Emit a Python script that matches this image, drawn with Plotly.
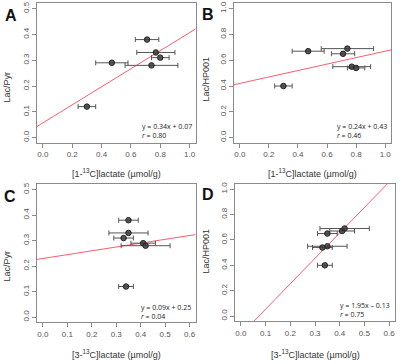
import plotly.graph_objects as go

# ---------------- data ----------------
lac1_x = [0.71, 0.77, 0.80, 0.47, 0.74, 0.30]          # [1-13C]lactate
lac1_err = [0.08, 0.13, 0.06, 0.11, 0.18, 0.06]
lac3_x = [0.35, 0.35, 0.33, 0.41, 0.42, 0.34]          # [3-13C]lactate
lac3_err = [0.04, 0.08, 0.04, 0.05, 0.10, 0.03]
lac_pyr = [0.38, 0.33, 0.31, 0.29, 0.28, 0.12]
lac_hp001 = [0.65, 0.55, 0.54, 0.67, 0.69, 0.40]

# regression lines as drawn (slope, intercept)
fit_A = (0.35, 0.057)
fit_B = (0.25, 0.42)
fit_C = (0.15, 0.23)
fit_D = (2.0, -0.145)

eq_text = {
    "A": ["y = 0.34x + 0.07", "r = 0.80"],
    "B": ["y = 0.24x + 0.43", "r = 0.46"],
    "C": ["y = 0.09x + 0.25", "r = 0.04"],
    "D": ["y = 1.95x \u2013 0.13", "r = 0.75"],
}

W, H = 400, 364

def fx(px):
    return px / W

def fy(py):
    return 1 - py / H

panels = {
    "A": (lac1_x, lac1_err, lac_pyr, fit_A, [-0.04, 1.04], [-0.02, 0.52], 0.2, 0.1, (37, 195.5, 1.5, 141.5)),
    "B": (lac1_x, lac1_err, lac_hp001, fit_B, [-0.04, 1.04], [-0.04, 1.04], 0.2, 0.2, (234, 391, 1.5, 141.5)),
    "C": (lac3_x, lac3_err, lac_pyr, fit_C, [-0.024, 0.624], [-0.02, 0.52], 0.1, 0.1, (37, 195.5, 183.5, 322)),
    "D": (lac3_x, lac3_err, lac_hp001, fit_D, [-0.024, 0.624], [-0.04, 1.04], 0.1, 0.2, (235, 395, 183, 321)),
}

xtitles = {
    "A": "[1-<sup>13</sup>C]lactate (\u00b5mol/g)",
    "B": "[1-<sup>13</sup>C]lactate (\u00b5mol/g)",
    "C": "[3-<sup>13</sup>C]lactate (\u00b5mol/g)",
    "D": "[3-<sup>13</sup>C]lactate (\u00b5mol/g)",
}
ytitles = {"A": "Lac/Pyr", "B": "Lac/HP001", "C": "Lac/Pyr", "D": "Lac/HP001"}

ytitle_pos = {"A": (7, 86), "B": (206, 78), "C": (7, 266), "D": (206, 251)}
xtitle_y = {"A": 172, "B": 172, "C": 354, "D": 354}
letter_pos = {"A": (11, 14), "B": (208, 13), "C": (10, 196), "D": (208, 194)}
eq_pos = {"A": (140, 130), "B": (335, 130), "C": (139, 312), "D": (338, 310)}

FONT = "Liberation Sans, Arial, sans-serif"

fig = go.Figure()
layout = dict(
    width=W, height=H, margin=dict(l=0, r=0, t=0, b=0, pad=0),
    paper_bgcolor="white", plot_bgcolor="white", showlegend=False,
    font=dict(family=FONT, size=8, color="#555555"),
)
annotations = []

axis_common = dict(
    showgrid=False, zeroline=False, showline=True, linecolor="#8a8a8a", linewidth=1,
    mirror=True, ticks="outside", ticklen=4, tickcolor="#8a8a8a", tickwidth=1,
    tickformat=".1f", tickfont=dict(size=8, color="#555555", family=FONT),
    fixedrange=True,
)

for i, (name, (xs, xe, ys, fit, xr, yr, xdt, ydt, box)) in enumerate(panels.items()):
    n = "" if i == 0 else str(i + 1)
    xa, ya = "x" + n, "y" + n
    l, r, t, b = box
    layout["xaxis" + n] = dict(axis_common, domain=[fx(l), fx(r)], range=xr, dtick=xdt, tick0=0,
                               anchor=ya)
    layout["yaxis" + n] = dict(axis_common, domain=[fy(b), fy(t)], range=yr, dtick=ydt, tick0=0,
                               anchor=xa, tickangle=-90)
    s, c = fit
    fig.add_trace(go.Scatter(
        x=[xr[0], xr[1]], y=[s * xr[0] + c, s * xr[1] + c], mode="lines",
        line=dict(color="#ff5b6e", width=1), xaxis=xa, yaxis=ya, hoverinfo="skip"))
    fig.add_trace(go.Scatter(
        x=xs, y=ys, mode="markers",
        marker=dict(size=5.5, color="rgba(60,60,60,0.85)", line=dict(color="#222222", width=1)),
        error_x=dict(type="data", array=xe, visible=True, color="#555555", thickness=1, width=2.5),
        xaxis=xa, yaxis=ya))
    annotations.append(dict(
        x=fx((l + r) / 2), y=fy(xtitle_y[name]), xref="paper", yref="paper",
        text=xtitles[name], showarrow=False, xanchor="center", yanchor="middle",
        font=dict(size=9, color="#333333", family=FONT)))
    tx, ty = ytitle_pos[name]
    annotations.append(dict(
        x=fx(tx), y=fy(ty), xref="paper", yref="paper", text=ytitles[name], textangle=-90,
        showarrow=False, xanchor="center", yanchor="middle",
        font=dict(size=9, color="#333333", family=FONT)))
    lx, ly = letter_pos[name]
    annotations.append(dict(
        x=fx(lx), y=fy(ly), xref="paper", yref="paper", text="<b>%s</b>" % name,
        showarrow=False, xanchor="center", yanchor="middle",
        font=dict(size=16, color="#111111", family=FONT)))
    ex, ey = eq_pos[name]
    l1, l2 = eq_text[name]
    l2 = "<i>r</i>" + l2[1:]
    annotations.append(dict(
        x=fx(ex), y=fy(ey), xref="paper", yref="paper", text=l1 + "<br>" + l2,
        showarrow=False, xanchor="left", yanchor="middle", align="left",
        font=dict(size=7, color="#222222", family="Open Sans, sans-serif")))

layout["annotations"] = annotations
fig.update_layout(**layout)
fig.write_html(
    "out.html",
    config={"displayModeBar": False},
    post_script="document.body.style.margin='0';document.body.style.overflow='hidden';",
)
